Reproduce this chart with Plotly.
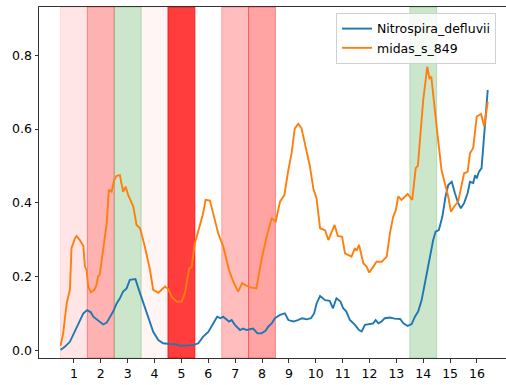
import plotly.graph_objects as go

# ---- data ----
nitro_x = [0.50, 0.67, 0.85, 0.97, 1.10, 1.22, 1.35, 1.49, 1.63, 1.72, 1.84, 1.97, 2.09, 2.22, 2.34, 2.46,
           2.59, 2.71, 2.83, 2.96, 3.08, 3.21, 3.29, 3.39, 3.46, 3.58, 3.77, 3.95, 4.14, 4.32, 4.57, 4.82,
           4.94, 5.19, 5.44, 5.63, 5.81, 6.00, 6.18, 6.33, 6.45, 6.55, 6.67, 6.77, 6.87, 6.99, 7.18, 7.30,
           7.42, 7.55, 7.67, 7.83, 7.98, 8.13, 8.23, 8.36, 8.48, 8.67, 8.85, 8.98, 9.17, 9.33, 9.50, 9.66,
           9.82, 9.94, 10.03, 10.16, 10.35, 10.52, 10.64, 10.77, 10.92, 11.02, 11.14, 11.27, 11.46, 11.61,
           11.71, 11.83, 11.99, 12.14, 12.23, 12.33, 12.45, 12.57, 12.76, 12.94, 13.14, 13.26, 13.42, 13.57,
           13.69, 13.81, 13.94, 14.06, 14.19, 14.29, 14.37, 14.46, 14.58, 14.71, 14.83, 14.93, 15.06, 15.18,
           15.30, 15.40, 15.52, 15.65, 15.74, 15.86, 15.93, 15.99, 16.07, 16.17, 16.27, 16.40]
nitro_y = [0.001, 0.010, 0.023, 0.041, 0.060, 0.082, 0.100, 0.109, 0.103, 0.091, 0.084, 0.078, 0.070, 0.075, 0.091, 0.105,
           0.127, 0.141, 0.159, 0.168, 0.191, 0.193, 0.193, 0.170, 0.155, 0.127, 0.087, 0.050, 0.028, 0.019, 0.017, 0.016,
           0.012, 0.012, 0.014, 0.019, 0.037, 0.050, 0.073, 0.091, 0.087, 0.091, 0.084, 0.078, 0.082, 0.069, 0.055, 0.059,
           0.055, 0.057, 0.059, 0.046, 0.046, 0.053, 0.064, 0.073, 0.087, 0.096, 0.100, 0.082, 0.078, 0.082, 0.087, 0.084,
           0.087, 0.100, 0.127, 0.147, 0.136, 0.134, 0.114, 0.141, 0.132, 0.114, 0.105, 0.082, 0.069, 0.055,
           0.051, 0.069, 0.071, 0.073, 0.082, 0.073, 0.078, 0.087, 0.089, 0.086, 0.085, 0.073, 0.066, 0.071,
           0.091, 0.105, 0.136, 0.182, 0.227, 0.272, 0.299, 0.322, 0.326, 0.362, 0.417, 0.448, 0.457, 0.426,
           0.399, 0.385, 0.399, 0.426, 0.457, 0.454, 0.475, 0.466, 0.484, 0.494, 0.579, 0.706]

midas_x = [0.50, 0.60, 0.73, 0.85, 0.91, 0.97, 1.04, 1.10, 1.22, 1.35, 1.41, 1.47, 1.53, 1.63, 1.76, 1.84,
           1.90, 1.96, 2.09, 2.22, 2.30, 2.40, 2.50, 2.59, 2.71, 2.83, 2.92, 3.02, 3.21, 3.33, 3.46, 3.64,
           3.83, 3.95, 4.14, 4.26, 4.39, 4.51, 4.64, 4.82, 5.01, 5.13, 5.29, 5.38, 5.50, 5.69, 5.81, 5.90,
           6.06, 6.18, 6.37, 6.56, 6.77, 6.93, 7.11, 7.26, 7.42, 7.60, 7.79, 7.98, 8.17, 8.36, 8.51, 8.67,
           8.83, 8.98, 9.10, 9.22, 9.35, 9.47, 9.60, 9.78, 9.91, 10.03, 10.16, 10.35, 10.47, 10.60, 10.70,
           10.82, 10.98, 11.09, 11.22, 11.33, 11.46, 11.52, 11.61, 11.77, 11.89, 11.99, 12.14, 12.26, 12.45,
           12.64, 12.76, 12.88, 12.98, 13.07, 13.19, 13.32, 13.42, 13.59, 13.72, 13.80, 13.88, 14.00, 14.15,
           14.23, 14.30, 14.41, 14.54, 14.68, 14.81, 14.93, 15.03, 15.15, 15.30, 15.43, 15.52, 15.65, 15.74,
           15.86, 15.99, 16.15, 16.27, 16.40]
midas_y = [0.012, 0.046, 0.127, 0.164, 0.277, 0.290, 0.304, 0.310, 0.299, 0.283, 0.227, 0.218, 0.173, 0.157, 0.164, 0.177,
           0.200, 0.205, 0.272, 0.344, 0.435, 0.430, 0.462, 0.473, 0.475, 0.430, 0.444, 0.421, 0.390, 0.340, 0.331, 0.281,
           0.218, 0.164, 0.156, 0.164, 0.173, 0.166, 0.145, 0.132, 0.132, 0.155, 0.222, 0.226, 0.290, 0.340, 0.372, 0.408,
           0.406, 0.372, 0.317, 0.281, 0.218, 0.186, 0.159, 0.182, 0.175, 0.170, 0.168, 0.245, 0.308, 0.358, 0.349, 0.403,
           0.421, 0.489, 0.534, 0.602, 0.614, 0.602, 0.561, 0.500, 0.439, 0.412, 0.331, 0.325, 0.299, 0.325, 0.340,
           0.310, 0.308, 0.263, 0.259, 0.254, 0.277, 0.270, 0.286, 0.236, 0.227, 0.211, 0.227, 0.240, 0.240,
           0.254, 0.317, 0.362, 0.380, 0.417, 0.408, 0.417, 0.424, 0.408, 0.494, 0.500, 0.579, 0.679, 0.769,
           0.738, 0.742, 0.661, 0.579, 0.489, 0.453, 0.417, 0.376, 0.390, 0.403, 0.444, 0.480, 0.484, 0.534,
           0.549, 0.634, 0.641, 0.607, 0.674]

# shaded periods: (start, end, colour, alpha)
span_start = [0.5, 1.5, 2.5, 3.5, 4.5, 6.5, 7.5, 13.5]
span_end = [1.5, 2.5, 3.5, 4.5, 5.5, 7.5, 8.5, 14.5]
span_color = ["red", "red", "green", "red", "red", "red", "red", "green"]
span_alpha = [0.10, 0.30, 0.20, 0.04, 0.76, 0.26, 0.36, 0.20]

x_ticks = list(range(1, 17))
y_ticks = [0.0, 0.2, 0.4, 0.6, 0.8]

rgb = {"red": (255, 0, 0), "green": (0, 128, 0)}

fig = go.Figure()
fig.add_trace(go.Scatter(x=nitro_x, y=nitro_y, mode="lines", name="Nitrospira_defluvii",
                         line=dict(color="#1f77b4", width=1.9)))
fig.add_trace(go.Scatter(x=midas_x, y=midas_y, mode="lines", name="midas_s_849",
                         line=dict(color="#ff7f0e", width=1.9)))

for s, e, c, a in zip(span_start, span_end, span_color, span_alpha):
    r, g, b = rgb[c]
    col = f"rgba({r},{g},{b},{a})"
    fig.add_shape(type="rect", xref="x", yref="paper", x0=s, x1=e, y0=0, y1=1,
                  fillcolor=col, line=dict(color=col, width=1), layer="below")

font = dict(family="DejaVu Sans", size=12.5, color="#000000")
fig.update_layout(
    width=506, height=385,
    margin=dict(l=39, r=0, t=7, b=27, autoexpand=False),
    paper_bgcolor="white", plot_bgcolor="white",
    font=font,
    showlegend=True,
    legend=dict(x=0.636, y=0.983, xanchor="left", yanchor="top",
                bgcolor="rgba(255,255,255,0.8)", bordercolor="#d0d0d0", borderwidth=1,
                font=dict(family="DejaVu Sans", size=12.5, color="#000000"),
                tracegroupgap=0, itemwidth=30),
    xaxis=dict(range=[-0.3, 17.08], tickmode="array", tickvals=x_ticks,
               ticktext=[str(t) for t in x_ticks], automargin=False,
               showgrid=False, zeroline=False, showline=True, linecolor="#333333", linewidth=1,
               mirror=True, ticks="outside", ticklen=3.5, tickcolor="#333333"),
    yaxis=dict(range=[-0.0209, 0.931], tickmode="array", tickvals=y_ticks,
               ticktext=[f"{t:.1f}" for t in y_ticks], automargin=False,
               showgrid=False, zeroline=False, showline=True, linecolor="#333333", linewidth=1,
               mirror=False, ticks="outside", ticklen=3.5, tickcolor="#333333"),
)

fig.write_html("out.html", config={"displayModeBar": False},
               post_script="document.body.style.margin='0px';")
